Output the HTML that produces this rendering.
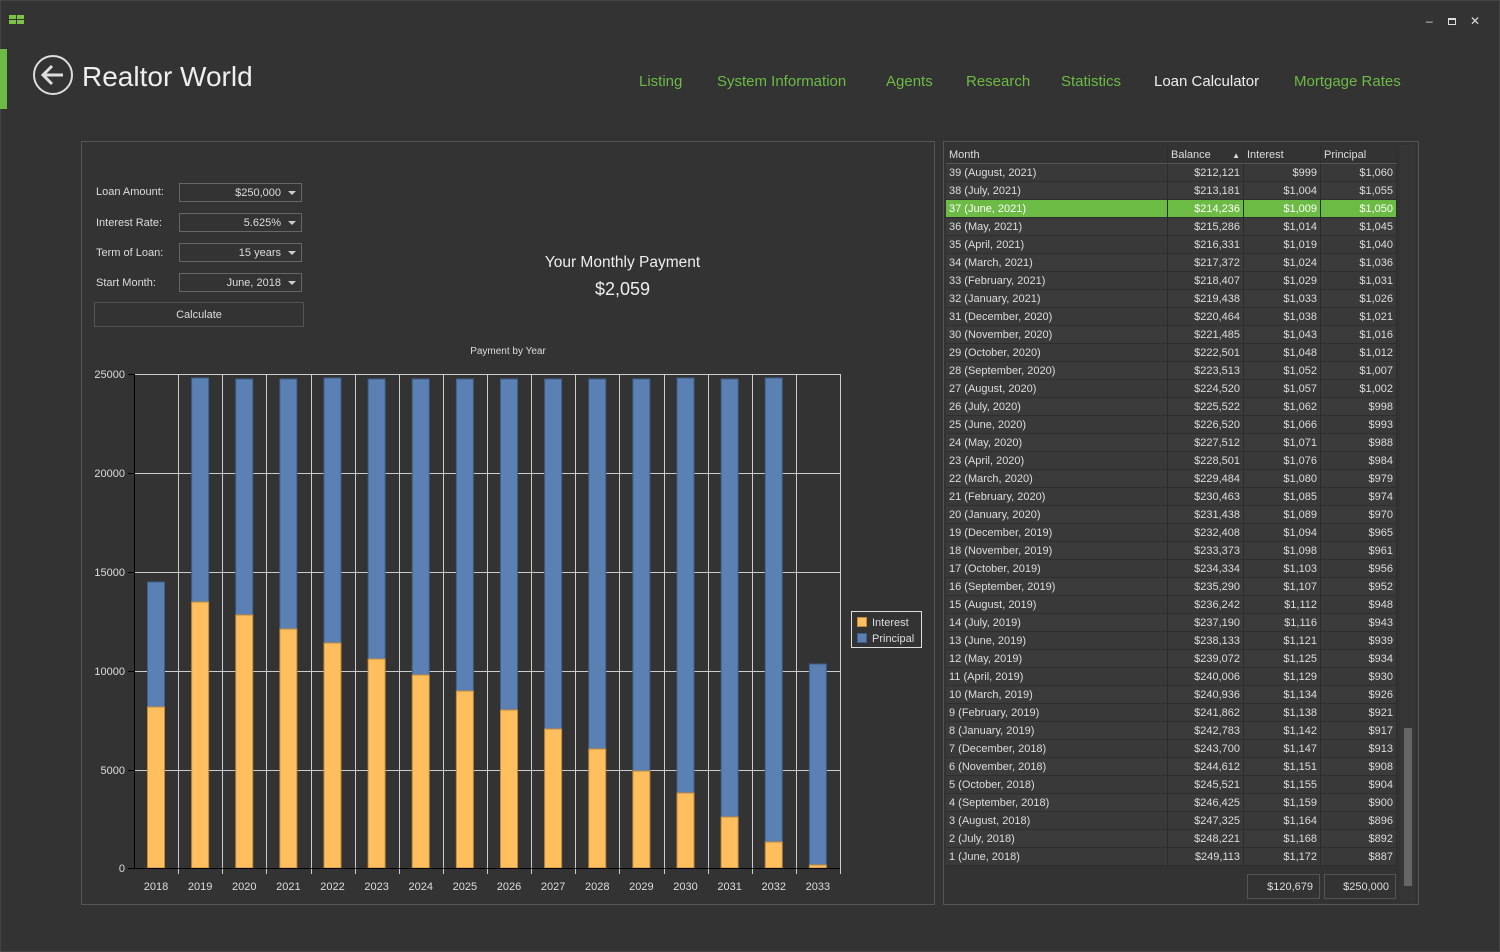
<!DOCTYPE html>
<html><head><meta charset="utf-8"><style>
*{margin:0;padding:0;box-sizing:border-box}
body{width:1500px;height:952px;background:#333;font-family:"Liberation Sans",sans-serif;color:#ddd;position:relative;overflow:hidden}
.a{position:absolute}
.nav{position:absolute;top:73px;font-size:15px;color:#6cbb45}
.lbl{position:absolute;left:96px;font-size:11px;color:#ddd}
.box{position:absolute;left:179px;width:123px;height:19px;border:1px solid #666;font-size:11px;text-align:right;padding:3px 20px 0 0;color:#ddd}
.box:after{content:"";position:absolute;right:5px;top:7px;border-left:4px solid transparent;border-right:4px solid transparent;border-top:4px solid #ccc}
#tbl{position:absolute;left:946px;top:146px;width:451px;font-size:11px}
.r{height:18px;display:flex;border-bottom:1px solid #2e2e2e}
.r div{padding:3px 3px 0 3px;border-right:1px solid #2c2c2c;white-space:nowrap}
.r div:nth-child(1){width:222px}
.r div:nth-child(2){width:76px;text-align:right}
.r div:nth-child(3){width:77px;text-align:right}
.r div:nth-child(4){width:76px;text-align:right}
.r:nth-child(odd){background:#3b3b3b}
.r:nth-child(even){background:#393939}
.hd{background:#333!important;border-bottom:1px solid #555}
.hd div{text-align:left!important}
.sel{background:#6cbb45!important;color:#fff}
</style></head><body>
<div class="a" style="left:0;top:0;width:1500px;height:952px;border:1px solid #444"></div>
<div class="a" style="left:9px;top:15px;width:7px;height:4px;background:#7dc242"></div>
<div class="a" style="left:17px;top:15px;width:7px;height:4px;background:#7dc242"></div>
<div class="a" style="left:9px;top:20px;width:7px;height:4px;background:#7dc242"></div>
<div class="a" style="left:17px;top:20px;width:7px;height:4px;background:#7dc242"></div>
<div class="a" style="left:1426px;top:14px;font-size:12px;color:#ddd">–</div>
<div class="a" style="left:1448px;top:18px;width:8px;height:7px;border:1px solid #ddd;border-top-width:2px"></div>
<div class="a" style="left:1470px;top:14px;font-size:12px;color:#ddd">✕</div>
<div class="a" style="left:0;top:49px;width:7px;height:60px;background:#6cbb45"></div>
<svg class="a" style="left:32px;top:54px" width="42" height="42"><circle cx="21" cy="21" r="19" fill="none" stroke="#ddd" stroke-width="2"/><path d="M31 21H12M20 12l-9 9 9 9" fill="none" stroke="#ddd" stroke-width="3"/></svg>
<div class="a" style="left:82px;top:61px;font-size:28px;color:#eee">Realtor World</div>
<div class="nav" style="left:639px">Listing</div>
<div class="nav" style="left:717px">System Information</div>
<div class="nav" style="left:886px">Agents</div>
<div class="nav" style="left:966px">Research</div>
<div class="nav" style="left:1061px">Statistics</div>
<div class="nav" style="left:1154px;color:#eee">Loan Calculator</div>
<div class="nav" style="left:1294px">Mortgage Rates</div>

<div class="a" style="left:81px;top:141px;width:854px;height:764px;border:1px solid #555"></div>
<div class="lbl" style="top:186px">Loan Amount:</div>
<div class="lbl" style="top:217px">Interest Rate:</div>
<div class="lbl" style="top:247px">Term of Loan:</div>
<div class="lbl" style="top:277px">Start Month:</div>
<div class="box" style="top:183px">$250,000</div>
<div class="box" style="top:213px">5.625%</div>
<div class="box" style="top:243px">15 years</div>
<div class="box" style="top:273px">June, 2018</div>
<div class="a" style="left:94px;top:302px;width:210px;height:25px;border:1px solid #555;font-size:11px;text-align:center;padding-top:6px">Calculate</div>
<div class="a" style="left:500px;top:254px;width:245px;text-align:center;font-size:15.5px;color:#eee">Your Monthly Payment</div>
<div class="a" style="left:500px;top:279px;width:245px;text-align:center;font-size:18px;color:#eee">$2,059</div>
<div class="a" style="left:408px;top:346px;width:200px;text-align:center;font-size:10px">Payment by Year</div>

<svg class="a" style="left:0;top:0" width="940" height="900" font-family="Liberation Sans" font-size="11" fill="#ddd">
<g stroke="#ccc" stroke-width="1">
<line x1="134" y1="374.5" x2="840" y2="374.5"/><line x1="134" y1="473.5" x2="840" y2="473.5"/><line x1="134" y1="572.5" x2="840" y2="572.5"/><line x1="134" y1="671.5" x2="840" y2="671.5"/><line x1="134" y1="770.5" x2="840" y2="770.5"/>
</g>
<g id="vg" stroke="#ccc"></g>
<g id="bars"></g>
<line x1="134.5" y1="374" x2="134.5" y2="868" stroke="#000"/>
<line x1="134" y1="868.5" x2="840" y2="868.5" stroke="#000"/>
<g stroke="#000"><line x1="128" y1="374.5" x2="134" y2="374.5"/><line x1="128" y1="473.5" x2="134" y2="473.5"/><line x1="128" y1="572.5" x2="134" y2="572.5"/><line x1="128" y1="671.5" x2="134" y2="671.5"/><line x1="128" y1="770.5" x2="134" y2="770.5"/><line x1="128" y1="868.5" x2="134" y2="868.5"/></g>
<g text-anchor="end"><text x="125" y="378">25000</text><text x="125" y="477">20000</text><text x="125" y="576">15000</text><text x="125" y="675">10000</text><text x="125" y="774">5000</text><text x="125" y="872">0</text></g>
<g id="xl" text-anchor="middle"></g>
<rect x="851.5" y="611.5" width="70" height="36" fill="none" stroke="#ddd"/>
<rect x="857.5" y="617.5" width="9" height="9" fill="#ffbf5f" stroke="#c08a3a"/>
<rect x="857.5" y="633.5" width="9" height="9" fill="#5a80b4" stroke="#3e5e88"/>
<text x="872" y="626">Interest</text><text x="872" y="642">Principal</text>
</svg>
<script>
var it=[707,602,615,629,643,659,675,691,710,729,749,771,793,817,842,865];
var tt=[582,378,379,379,378,379,379,379,379,379,379,379,378,379,378,664];
var b='',v='',x='';
for(var i=0;i<16;i++){var l=134+i*44.125;var bx=l+13.5;
b+='<rect x="'+bx+'" y="'+tt[i]+'" width="17" height="'+(it[i]-tt[i])+'" fill="#5a80b4" stroke="#3e5e88"/>';
b+='<rect x="'+bx+'" y="'+it[i]+'" width="17" height="'+(868-it[i])+'" fill="#ffbf5f" stroke="#c08a3a"/>';
var gx=Math.round(l+44.125)+0.5;v+='<line x1="'+gx+'" y1="374" x2="'+gx+'" y2="874"/>';
x+='<text x="'+(l+22)+'" y="890">'+(2018+i)+'</text>';}
document.getElementById('bars').innerHTML=b;document.getElementById('vg').innerHTML=v;document.getElementById('xl').innerHTML=x;
</script>

<div class="a" style="left:943px;top:141px;width:476px;height:764px;border:1px solid #555"></div>
<div class="a" style="left:1400px;top:145px;width:15px;height:755px;background:#363636"></div>
<div class="a" style="left:1404px;top:728px;width:8px;height:158px;background:#666"></div>
<div id="tbl">
<div class="r hd"><div>Month</div><div>Balance <span style="float:right;font-size:8px;padding-top:2px">▲</span></div><div>Interest</div><div>Principal</div></div>
<div class="r"><div>39 (August, 2021)</div><div>$212,121</div><div>$999</div><div>$1,060</div></div>
<div class="r"><div>38 (July, 2021)</div><div>$213,181</div><div>$1,004</div><div>$1,055</div></div>
<div class="r sel"><div>37 (June, 2021)</div><div>$214,236</div><div>$1,009</div><div>$1,050</div></div>
<div class="r"><div>36 (May, 2021)</div><div>$215,286</div><div>$1,014</div><div>$1,045</div></div>
<div class="r"><div>35 (April, 2021)</div><div>$216,331</div><div>$1,019</div><div>$1,040</div></div>
<div class="r"><div>34 (March, 2021)</div><div>$217,372</div><div>$1,024</div><div>$1,036</div></div>
<div class="r"><div>33 (February, 2021)</div><div>$218,407</div><div>$1,029</div><div>$1,031</div></div>
<div class="r"><div>32 (January, 2021)</div><div>$219,438</div><div>$1,033</div><div>$1,026</div></div>
<div class="r"><div>31 (December, 2020)</div><div>$220,464</div><div>$1,038</div><div>$1,021</div></div>
<div class="r"><div>30 (November, 2020)</div><div>$221,485</div><div>$1,043</div><div>$1,016</div></div>
<div class="r"><div>29 (October, 2020)</div><div>$222,501</div><div>$1,048</div><div>$1,012</div></div>
<div class="r"><div>28 (September, 2020)</div><div>$223,513</div><div>$1,052</div><div>$1,007</div></div>
<div class="r"><div>27 (August, 2020)</div><div>$224,520</div><div>$1,057</div><div>$1,002</div></div>
<div class="r"><div>26 (July, 2020)</div><div>$225,522</div><div>$1,062</div><div>$998</div></div>
<div class="r"><div>25 (June, 2020)</div><div>$226,520</div><div>$1,066</div><div>$993</div></div>
<div class="r"><div>24 (May, 2020)</div><div>$227,512</div><div>$1,071</div><div>$988</div></div>
<div class="r"><div>23 (April, 2020)</div><div>$228,501</div><div>$1,076</div><div>$984</div></div>
<div class="r"><div>22 (March, 2020)</div><div>$229,484</div><div>$1,080</div><div>$979</div></div>
<div class="r"><div>21 (February, 2020)</div><div>$230,463</div><div>$1,085</div><div>$974</div></div>
<div class="r"><div>20 (January, 2020)</div><div>$231,438</div><div>$1,089</div><div>$970</div></div>
<div class="r"><div>19 (December, 2019)</div><div>$232,408</div><div>$1,094</div><div>$965</div></div>
<div class="r"><div>18 (November, 2019)</div><div>$233,373</div><div>$1,098</div><div>$961</div></div>
<div class="r"><div>17 (October, 2019)</div><div>$234,334</div><div>$1,103</div><div>$956</div></div>
<div class="r"><div>16 (September, 2019)</div><div>$235,290</div><div>$1,107</div><div>$952</div></div>
<div class="r"><div>15 (August, 2019)</div><div>$236,242</div><div>$1,112</div><div>$948</div></div>
<div class="r"><div>14 (July, 2019)</div><div>$237,190</div><div>$1,116</div><div>$943</div></div>
<div class="r"><div>13 (June, 2019)</div><div>$238,133</div><div>$1,121</div><div>$939</div></div>
<div class="r"><div>12 (May, 2019)</div><div>$239,072</div><div>$1,125</div><div>$934</div></div>
<div class="r"><div>11 (April, 2019)</div><div>$240,006</div><div>$1,129</div><div>$930</div></div>
<div class="r"><div>10 (March, 2019)</div><div>$240,936</div><div>$1,134</div><div>$926</div></div>
<div class="r"><div>9 (February, 2019)</div><div>$241,862</div><div>$1,138</div><div>$921</div></div>
<div class="r"><div>8 (January, 2019)</div><div>$242,783</div><div>$1,142</div><div>$917</div></div>
<div class="r"><div>7 (December, 2018)</div><div>$243,700</div><div>$1,147</div><div>$913</div></div>
<div class="r"><div>6 (November, 2018)</div><div>$244,612</div><div>$1,151</div><div>$908</div></div>
<div class="r"><div>5 (October, 2018)</div><div>$245,521</div><div>$1,155</div><div>$904</div></div>
<div class="r"><div>4 (September, 2018)</div><div>$246,425</div><div>$1,159</div><div>$900</div></div>
<div class="r"><div>3 (August, 2018)</div><div>$247,325</div><div>$1,164</div><div>$896</div></div>
<div class="r"><div>2 (July, 2018)</div><div>$248,221</div><div>$1,168</div><div>$892</div></div>
<div class="r"><div>1 (June, 2018)</div><div>$249,113</div><div>$1,172</div><div>$887</div></div>
</div>
<div class="a" style="left:1247px;top:874px;width:73px;height:25px;border:1px solid #555;font-size:11px;text-align:right;padding:6px 6px 0 0">$120,679</div>
<div class="a" style="left:1324px;top:874px;width:72px;height:25px;border:1px solid #555;font-size:11px;text-align:right;padding:6px 6px 0 0">$250,000</div>
</body></html>
